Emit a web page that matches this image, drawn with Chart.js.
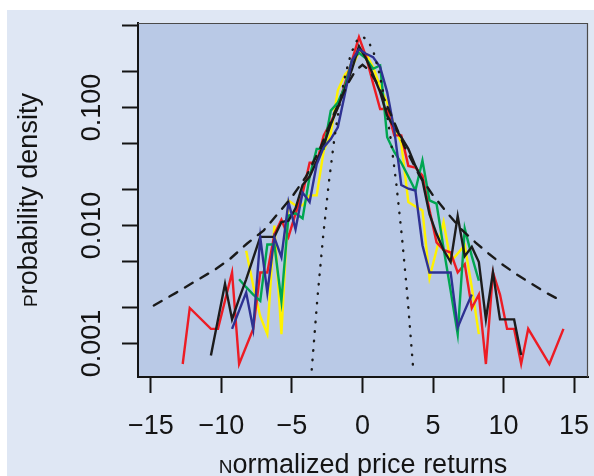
<!DOCTYPE html>
<html>
<head>
<meta charset="utf-8">
<script src="https://cdn.jsdelivr.net/npm/chart.js@4.4.1/dist/chart.umd.min.js"></script>
<style>
  html, body { margin: 0; padding: 0; background: #ffffff; }
  canvas { display: block; }
</style>
</head>
<body>
<canvas id="myChart" width="594" height="476"></canvas>
<script>
// empirical densities, one pair of arrays per series (bin centres, density)
const redX = [-12.75, -12.25, -10.75, -10.25, -9.25, -8.75, -7.75, -7.25, -6.75, -6.25, -5.75, -5.25, -4.75, -4.25, -3.75, -3.25, -2.75, -2.25, -1.75, -1.25, -0.75, -0.25, 0.25, 0.75, 1.25, 1.75, 2.25, 2.75, 3.25, 3.75, 4.25, 4.75, 5.25, 5.75, 6.25, 6.75, 7.25, 7.75, 8.25, 8.75, 9.25, 9.75, 10.25, 10.75, 11.25, 11.75, 13.25, 14.25];
const redY = [0.00067, 0.0020, 0.00133, 0.00133, 0.0040, 0.00067, 0.00133, 0.0040, 0.0040, 0.0084, 0.0112, 0.0080, 0.0126, 0.0186, 0.034, 0.034, 0.058, 0.075, 0.10, 0.159, 0.25, 0.395, 0.27, 0.16, 0.097, 0.097, 0.058, 0.058, 0.032, 0.031, 0.0265, 0.0135, 0.0072, 0.0062, 0.0059, 0.0040, 0.0047, 0.0020, 0.0026, 0.00067, 0.0040, 0.0026, 0.00133, 0.00133, 0.00067, 0.00133, 0.00067, 0.00133];

const blackX = [-10.75, -9.75, -9.25, -8.75, -8.25, -7.75, -7.25, -6.75, -6.25, -5.75, -5.25, -4.75, -4.25, -3.75, -3.25, -2.75, -2.25, -1.75, -1.25, -0.75, -0.25, 0.25, 0.75, 1.25, 1.75, 2.25, 2.75, 3.25, 3.75, 4.25, 4.75, 5.25, 5.75, 6.25, 6.75, 7.25, 7.75, 8.25, 8.75, 9.25, 9.75, 10.25, 10.75, 11.25];
const blackY = [0.00079, 0.0032, 0.0016, 0.0024, 0.0035, 0.0053, 0.0080, 0.0080, 0.0080, 0.0107, 0.011, 0.014, 0.022, 0.026, 0.035, 0.048, 0.072, 0.10, 0.144, 0.21, 0.33, 0.26, 0.19, 0.135, 0.085, 0.068, 0.056, 0.0447, 0.032, 0.024, 0.0125, 0.0085, 0.0062, 0.0049, 0.0120, 0.0055, 0.0066, 0.0049, 0.0016, 0.0040, 0.0016, 0.0016, 0.0016, 0.0008];

const greenX = [-8.75, -8.25, -7.75, -7.25, -6.75, -6.25, -5.75, -5.25, -4.75, -4.25, -3.75, -3.25, -2.75, -2.25, -1.75, -1.25, -0.75, -0.25, 0.25, 0.75, 1.25, 1.75, 2.25, 2.75, 3.25, 3.75, 4.25, 4.75, 5.25, 5.75, 6.25, 6.75, 7.25, 7.75, 8.25];
const greenY = [0.0035, 0.0030, 0.0026, 0.0023, 0.0069, 0.0069, 0.0023, 0.0121, 0.0127, 0.0115, 0.026, 0.0446, 0.0446, 0.094, 0.11, 0.15, 0.25, 0.29, 0.26, 0.213, 0.227, 0.056, 0.042, 0.034, 0.026, 0.0198, 0.0356, 0.0163, 0.0153, 0.0064, 0.0028, 0.0012, 0.0094, 0.0055, 0.0034];

const blueX = [-9.25, -8.75, -8.25, -7.75, -7.25, -6.75, -6.25, -5.75, -5.25, -4.75, -4.25, -3.75, -3.25, -2.75, -2.25, -1.75, -1.25, -0.75, -0.25, 0.25, 0.75, 1.25, 1.75, 2.25, 2.75, 3.25, 3.75, 4.25, 4.75, 5.25, 5.75, 6.25, 6.75, 7.25, 7.75];
const blueY = [0.00133, 0.0019, 0.0027, 0.00133, 0.0079, 0.0027, 0.0079, 0.0054, 0.0158, 0.0093, 0.019, 0.0158, 0.033, 0.046, 0.054, 0.068, 0.13, 0.25, 0.31, 0.285, 0.267, 0.22, 0.135, 0.065, 0.022, 0.0205, 0.0198, 0.0068, 0.0040, 0.0040, 0.0040, 0.0040, 0.00137, 0.0019, 0.0026];

const yellowX = [-8.25, -7.75, -7.25, -6.75, -6.25, -5.75, -5.25, -4.75, -4.25, -3.75, -3.25, -2.75, -2.25, -1.75, -1.25, -0.75, -0.25, 0.25, 0.75, 1.25, 1.75, 2.25, 2.75, 3.25, 3.75, 4.25, 4.75, 5.25, 5.75, 6.25, 6.75, 7.25, 7.75, 8.25];
const yellowY = [0.0061, 0.0031, 0.0017, 0.0012, 0.010, 0.0012, 0.0163, 0.0148, 0.0148, 0.018, 0.018, 0.043, 0.06, 0.14, 0.19, 0.22, 0.295, 0.285, 0.22, 0.15, 0.11, 0.07, 0.05, 0.0158, 0.0145, 0.0134, 0.0036, 0.0062, 0.0107, 0.0049, 0.0058, 0.0068, 0.0030, 0.0012];

// fitted fat-tailed curve (dashed) and gaussian (dotted)
const fitX = [-14.8, -13.2, -11.8, -10.5, -9.4, -8.2, -7.0, -6.0, -5.0, -4.0, -3.0, -2.0, -1.0, -0.5, 0, 0.5, 1.0, 2.0, 3.0, 4.0, 5.0, 6.0, 7.0, 8.0, 9.0, 10.0, 11.0, 12.0, 13.0, 14.1];
const fitY = [0.0021, 0.0027, 0.0034, 0.0042, 0.0052, 0.0070, 0.0091, 0.0126, 0.0175, 0.026, 0.045, 0.090, 0.162, 0.205, 0.23, 0.205, 0.162, 0.088, 0.046, 0.027, 0.018, 0.0128, 0.0093, 0.0072, 0.0057, 0.0046, 0.0038, 0.0032, 0.0027, 0.0023];

const gaussX = [-3.6, -3.2, -2.8, -2.4, -2.0, -1.6, -1.2, -0.8, -0.4, 0, 0.4, 0.8, 1.2, 1.6, 2.0, 2.4, 2.8, 3.2, 3.6];
const gaussY = [0.0006, 0.0024, 0.0079, 0.0224, 0.054, 0.111, 0.194, 0.29, 0.368, 0.399, 0.368, 0.29, 0.194, 0.111, 0.054, 0.0224, 0.0079, 0.0024, 0.0006];

const xTicks = [-15, -10, -5, 0, 5, 10, 15];
const yTicks = [0.5, 0.2, 0.1, 0.05, 0.02, 0.01, 0.005, 0.002, 0.001];
const yLabelTicks = [0.1, 0.01, 0.001];
const yLabelText = ["0.100", "0.010", "0.001"];
const xTitle = "Normalized price returns";
const yTitle = "Probability density";

const FONT = "'Liberation Sans', Arial, Helvetica, sans-serif";

function toPoints(xs, ys) {
  return xs.map((x, i) => ({ x: x, y: ys[i] }));
}

function series(data, color, dash) {
  return {
    data: data,
    showLine: true,
    borderColor: color,
    borderWidth: 2.4,
    borderDash: dash || [],
    borderCapStyle: dash ? "round" : "butt",
    borderJoinStyle: "miter",
    pointRadius: 0,
    tension: 0,
    fill: false
  };
}

// first letter is set smaller, like in the original figure
function drawTitle(ctx, text, cx, cy, rot) {
  const first = text[0];
  const rest = text.slice(1);
  ctx.font = "19px " + FONT;
  const w1 = ctx.measureText(first).width;
  ctx.font = "27px " + FONT;
  const w2 = ctx.measureText(rest).width;
  ctx.save();
  ctx.translate(cx, cy);
  ctx.rotate(rot);
  ctx.textAlign = "left";
  ctx.textBaseline = "alphabetic";
  const x0 = -(w1 + w2) / 2;
  ctx.font = "19px " + FONT;
  ctx.fillText(first, x0, 0);
  ctx.font = "27px " + FONT;
  ctx.fillText(rest, x0 + w1, 0);
  ctx.restore();
}

const background = {
  id: "background",
  beforeDraw(chart) {
    const { ctx, chartArea: a } = chart;
    ctx.save();
    ctx.fillStyle = "#ffffff";
    ctx.fillRect(0, 0, chart.width, chart.height);
    ctx.fillStyle = "#dfe7f4";
    ctx.fillRect(7, 10, chart.width - 7, chart.height - 10);
    ctx.fillStyle = "#b9c9e6";
    ctx.fillRect(a.left, a.top, a.right - a.left, a.bottom - a.top);
    ctx.restore();
  }
};

const labels = {
  id: "labels",
  afterDraw(chart) {
    const { ctx, chartArea: a } = chart;
    const yScale = chart.scales.y;
    ctx.save();
    // thin frame on top and right
    ctx.strokeStyle = "#4a4a4a";
    ctx.lineWidth = 1.2;
    ctx.beginPath();
    ctx.moveTo(a.left, a.top + 0.5);
    ctx.lineTo(a.right - 0.5, a.top + 0.5);
    ctx.lineTo(a.right - 0.5, a.bottom);
    ctx.stroke();

    ctx.fillStyle = "#141414";
    ctx.font = "27px " + FONT;
    ctx.textAlign = "center";
    ctx.textBaseline = "alphabetic";
    yLabelTicks.forEach((v, i) => {
      ctx.save();
      ctx.translate(100, yScale.getPixelForValue(v));
      ctx.rotate(-Math.PI / 2);
      ctx.fillText(yLabelText[i], 0, 0);
      ctx.restore();
    });

    drawTitle(ctx, yTitle, 37, (a.top + a.bottom) / 2, -Math.PI / 2);
    drawTitle(ctx, xTitle, (a.left + a.right) / 2, 473, 0);
    ctx.restore();
  }
};

const axisGrid = {
  drawOnChartArea: false,
  drawTicks: true,
  tickLength: 16,
  tickWidth: 2,
  tickColor: "#141414"
};

new Chart(document.getElementById("myChart"), {
  type: "scatter",
  data: {
    datasets: [
      series(toPoints(gaussX, gaussY), "#1a1a1a", [0.5, 9]),
      series(toPoints(fitX, fitY), "#1a1a1a", [9, 9]),
      series(toPoints(blueX, blueY), "#2e3192"),
      series(toPoints(blackX, blackY), "#1c1c1c"),
      series(toPoints(greenX, greenY), "#00a651"),
      series(toPoints(redX, redY), "#ed1c24"),
      series(toPoints(yellowX, yellowY), "#fff200")
    ]
  },
  options: {
    responsive: false,
    animation: false,
    devicePixelRatio: 1,
    layout: { padding: { left: 0, top: 23, right: 6, bottom: 0 } },
    plugins: {
      legend: { display: false },
      tooltip: { enabled: false }
    },
    scales: {
      x: {
        type: "linear",
        min: -15.92,
        max: 15.99,
        afterBuildTicks: (s) => { s.ticks = xTicks.map((v) => ({ value: v })); },
        afterFit: (s) => { s.height = 99; s.paddingLeft = 0; s.paddingRight = 0; },
        grid: axisGrid,
        border: { display: true, color: "#141414", width: 2 },
        ticks: {
          autoSkip: false,
          maxRotation: 0,
          padding: 17,
          color: "#141414",
          font: { family: FONT, size: 27 },
          callback: (v) => (v < 0 ? "\u2212" + Math.abs(v) : String(v))
        }
      },
      y: {
        type: "logarithmic",
        min: 0.00052,
        max: 0.52,
        afterBuildTicks: (s) => { s.ticks = yTicks.map((v) => ({ value: v })); },
        afterFit: (s) => { s.width = 138; s.paddingTop = 0; s.paddingBottom = 0; },
        grid: axisGrid,
        border: { display: true, color: "#141414", width: 2 },
        ticks: { display: false }
      }
    }
  },
  plugins: [background, labels]
});
</script>
</body>
</html>
